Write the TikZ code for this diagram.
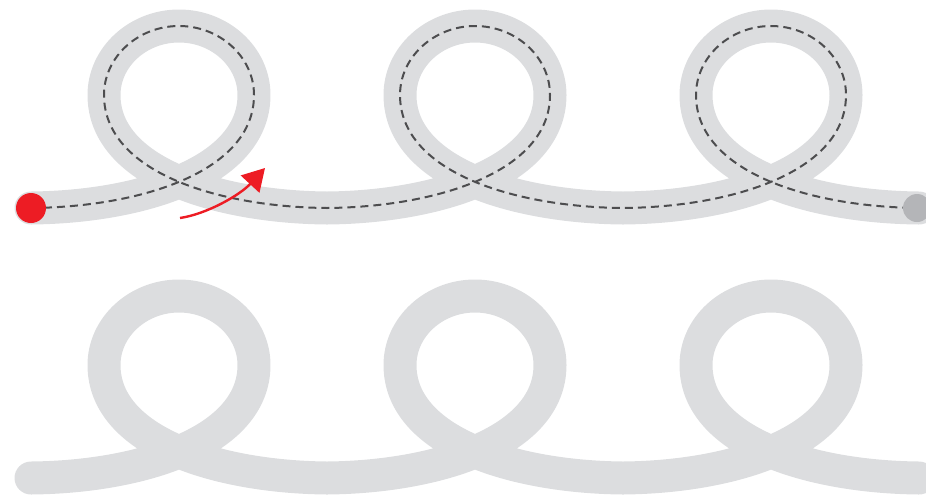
\documentclass[tikz,border=0pt]{standalone}
\usetikzlibrary{arrows.meta}
\definecolor{band}{HTML}{DCDDDF}
\definecolor{enddot}{HTML}{B4B5B8}
\definecolor{dashc}{HTML}{4D4D4F}
\definecolor{arrred}{HTML}{ED1C24}
\newcommand\rowpath{(31,208)
 .. controls (140,207) and (254,172) .. (254,95)
 .. controls (254,57) and (220,26) .. (179,26)
 .. controls (138,26) and (104,57) .. (104,95)
 .. controls (104,172) and (218,207) .. (327,208)
 .. controls (436,207) and (550,172) .. (550,95)
 .. controls (550,57) and (516,26) .. (475,26)
 .. controls (434,26) and (400,57) .. (400,95)
 .. controls (400,172) and (514,207) .. (623,208)
 .. controls (732,207) and (846,172) .. (846,95)
 .. controls (846,57) and (812,26) .. (771,26)
 .. controls (730,26) and (696,57) .. (696,95)
 .. controls (696,172) and (810,207) .. (919,208)}
\tikzset{
  bandline/.style={draw=band, line width=33pt, line cap=round, line join=round},
  guideline/.style={draw=dashc, line width=2pt, dash pattern=on 8pt off 5pt},
  startdot/.style={circle, fill=arrred, minimum size=30pt, inner sep=0pt},
  finishdot/.style={circle, fill=enddot, minimum size=28pt, inner sep=0pt},
  turnarrow/.style={draw=arrred, line width=2.4pt, -{Triangle[length=22pt,width=25pt]}}
}
\begin{document}
\begin{tikzpicture}[x=1pt,y=-1pt]
\useasboundingbox (0,0) rectangle (926,496);
% top row
\path[bandline] \rowpath;
\path[guideline] \rowpath;
\node[startdot] (start) at (31,208) {};
\node[finishdot] (finish) at (917,208) {};
\coordinate (atail) at (180,218);
\coordinate (ahead) at (265,168);
\draw[turnarrow] (atail) .. controls (207,214) and (240,195) .. (ahead);
% bottom row
\begin{scope}[yshift=-270pt]
\path[bandline] \rowpath;
\end{scope}
\end{tikzpicture}
\end{document}
